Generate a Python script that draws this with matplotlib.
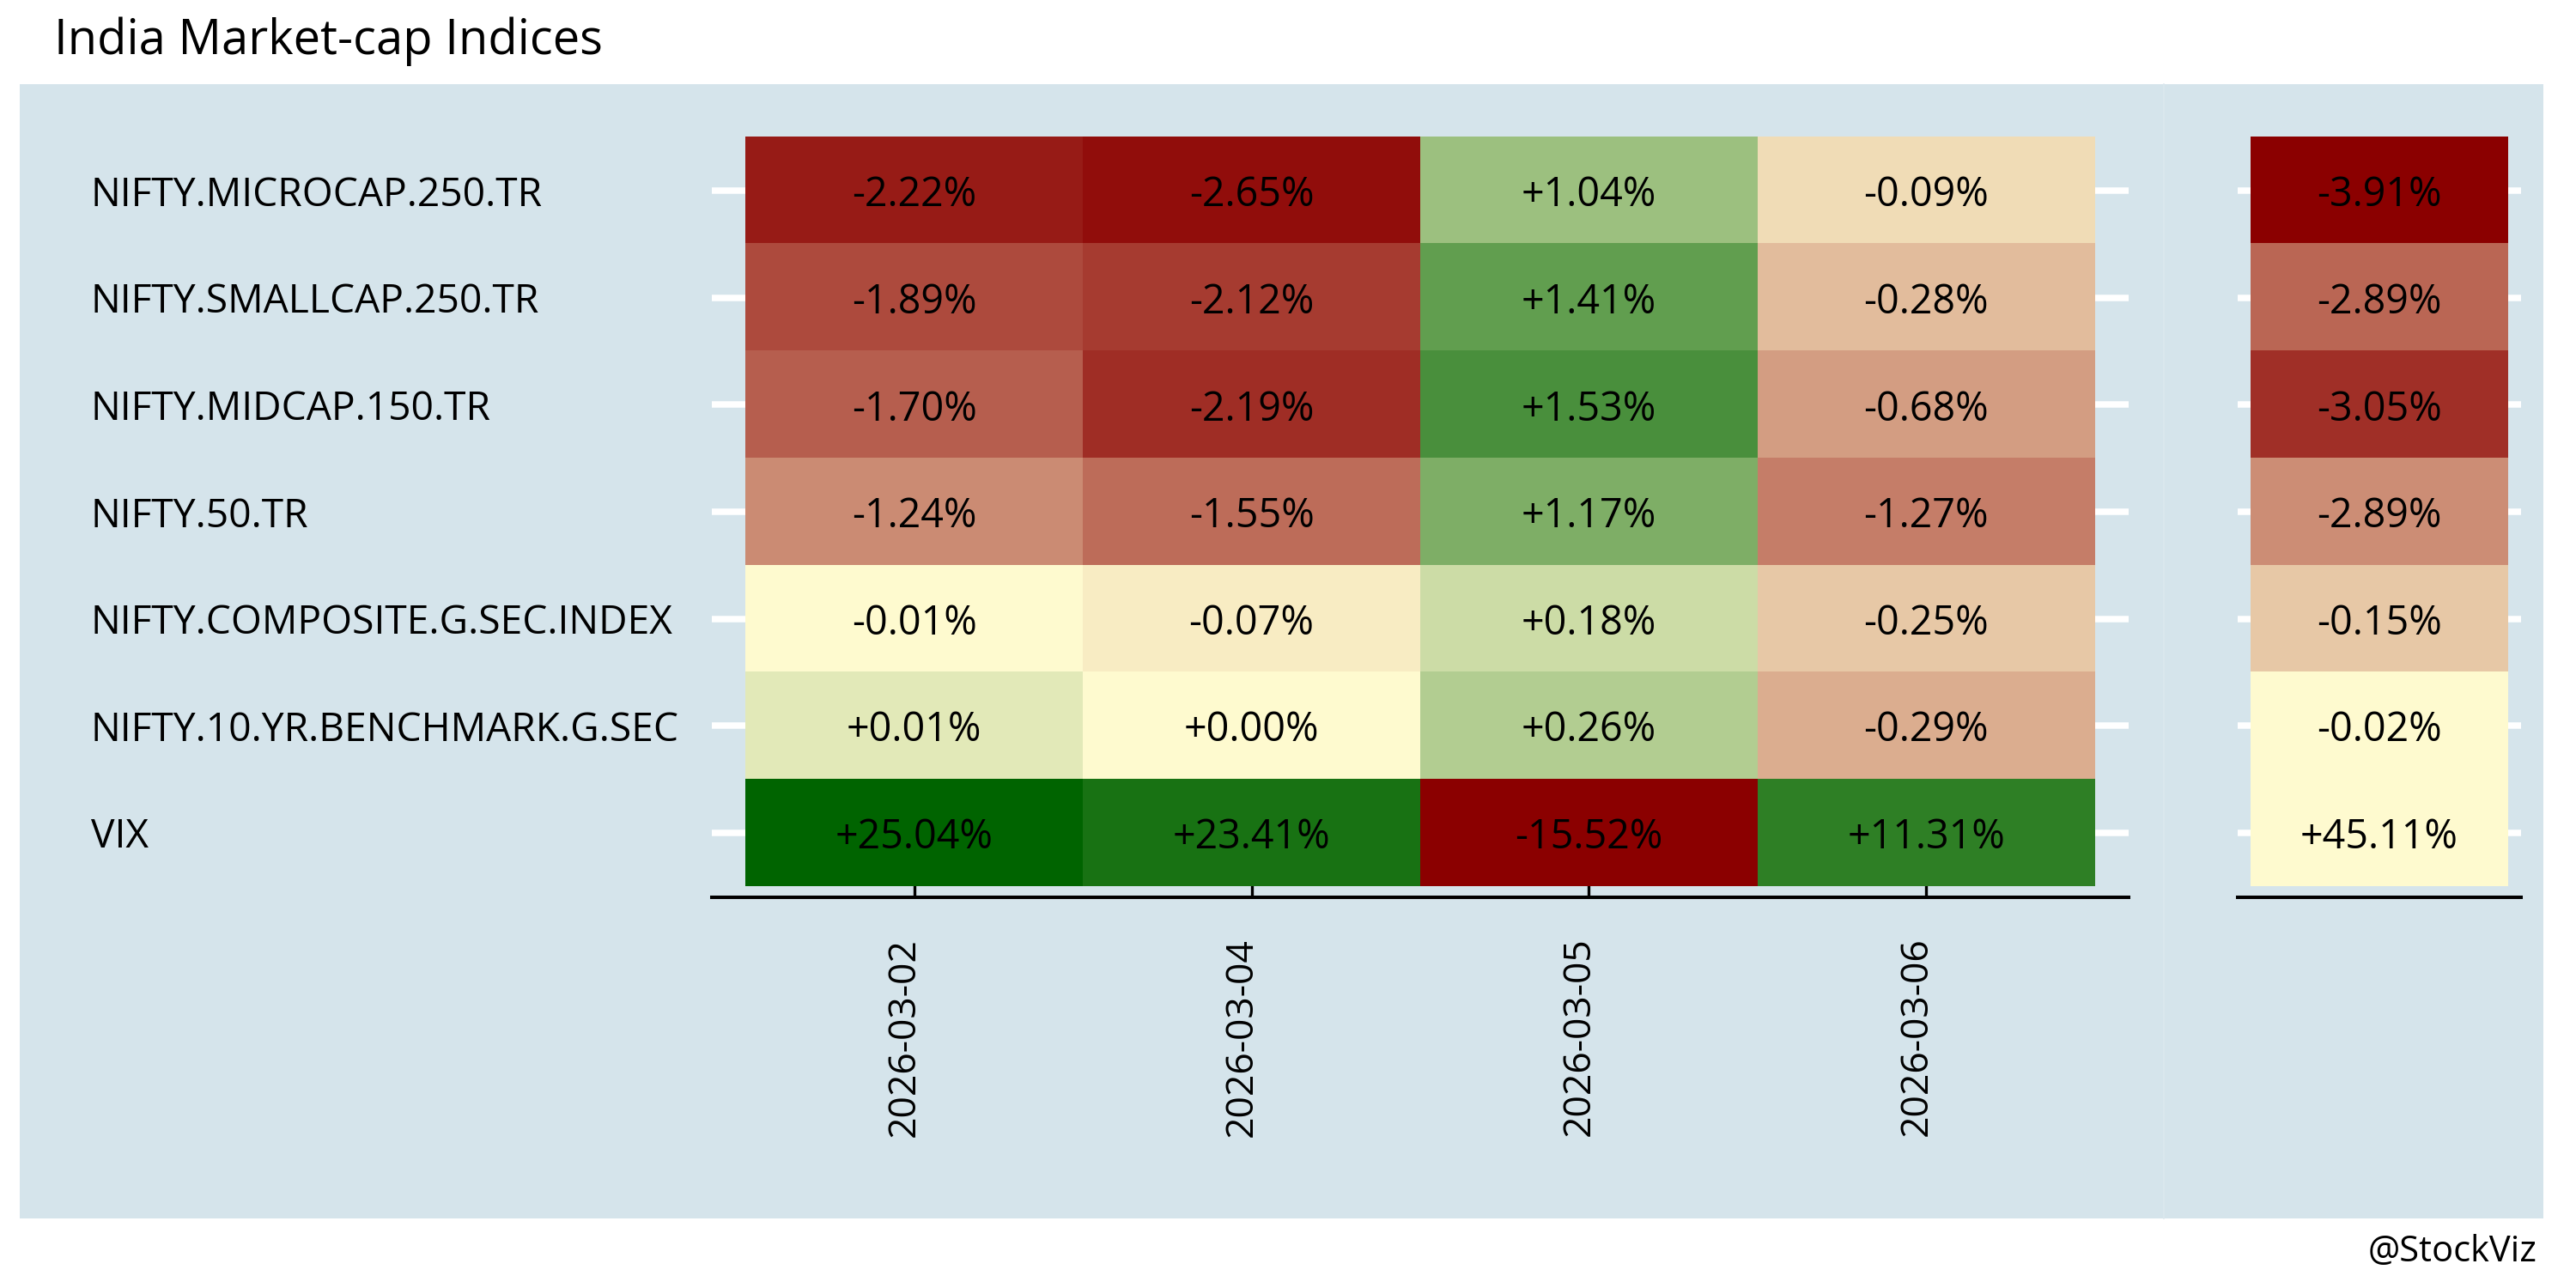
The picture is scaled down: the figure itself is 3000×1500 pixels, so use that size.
import matplotlib
matplotlib.use("Agg")
import matplotlib.pyplot as plt
from matplotlib.colors import LinearSegmentedColormap, Normalize
from matplotlib.patches import Rectangle
from matplotlib.transforms import ScaledTranslation
import numpy as np

plt.rcParams['font.family'] = ['Open Sans', 'DejaVu Sans']

# data
indices = ["NIFTY.MICROCAP.250.TR", "NIFTY.SMALLCAP.250.TR", "NIFTY.MIDCAP.150.TR",
           "NIFTY.50.TR", "NIFTY.COMPOSITE.G.SEC.INDEX", "NIFTY.10.YR.BENCHMARK.G.SEC", "VIX"]
dates = ["2026-03-02", "2026-03-04", "2026-03-05", "2026-03-06"]
daily_ret = [
    [-2.22, -2.65, 1.04, -0.09],
    [-1.89, -2.12, 1.41, -0.28],
    [-1.70, -2.19, 1.53, -0.68],
    [-1.24, -1.55, 1.17, -1.27],
    [-0.01, -0.07, 0.18, -0.25],
    [0.01, 0.00, 0.26, -0.29],
    [25.04, 23.41, -15.52, 11.31],
]
total_ret = [-3.91, -2.89, -3.05, -2.89, -0.15, -0.02, 45.11]

# fill intensity of each cell (-1 = dark red, 0 = yellow, +1 = dark green)
daily_fill = [
    [-0.89, -0.94, 0.39, -0.12],
    [-0.70, -0.76, 0.61, -0.25],
    [-0.62, -0.82, 0.71, -0.37],
    [-0.44, -0.57, 0.50, -0.50],
    [0.00, -0.06, 0.20, -0.20],
    [0.11, 0.00, 0.30, -0.31],
    [1.00, 0.90, -1.00, 0.82],
]
total_fill = [-1.00, -0.59, -0.81, -0.43, -0.20, 0.00, 0.00]

BG = '#d5e4eb'
W, H = 3000, 1500
cmap = LinearSegmentedColormap.from_list('ryg', ['#8b0000', '#fffbd0', '#006400'])
norm = Normalize(-1, 1)

fig = plt.figure(figsize=(15, 7.5), dpi=200, facecolor='white')

# plot backgrounds (two panels side by side)
fig.patches.append(Rectangle((23 / W, 1 - 1419 / H), (2520 - 23) / W, (1419 - 98) / H,
                             transform=fig.transFigure, facecolor=BG, edgecolor='none', zorder=-2))
fig.patches.append(Rectangle((2520 / W, 1 - 1419 / H), (2962 - 2520) / W, (1419 - 98) / H,
                             transform=fig.transFigure, facecolor=BG, edgecolor='none', zorder=-2))
fig.lines.append(plt.Line2D([2520 / W, 2520 / W], [1 - 1419 / H, 1 - 98 / H], transform=fig.transFigure,
                            color='#dce8ee', lw=0.6, zorder=-1))

bottom = 1 - 1044.5 / H
height = (1044.5 - 147.5) / H
ax = fig.add_axes([829 / W, bottom, 1650 / W, height])
ax2 = fig.add_axes([2606 / W, bottom, 330 / W, height])

n = len(indices)
data = np.array(daily_ret)

for a in (ax, ax2):
    a.set_facecolor('none')
    for s in ['top', 'left', 'right']:
        a.spines[s].set_visible(False)
    a.spines['bottom'].set_linewidth(1.45)
    a.spines['bottom'].set_color('black')
    a.set_axisbelow(True)
    a.yaxis.grid(True, color='white', lw=2.7)

# main heatmap
ax.imshow(np.array(daily_fill), cmap=cmap, norm=norm, aspect='auto',
          extent=(0.5, len(dates) + 0.5, n + 0.5, 0.5), interpolation='nearest', zorder=2)
ax.set_xlim(0.4, len(dates) + 0.6)
ax.set_ylim(n + 0.6, 0.4)
for i in range(n):
    for j in range(len(dates)):
        ax.text(j + 1, i + 1, f"{data[i, j]:+.2f}%", ha='center', va='center_baseline',
                fontsize=16.8, zorder=3)

ax.set_xticks(range(1, len(dates) + 1))
ax.set_xticklabels(dates, rotation=90, fontsize=16)
ax.tick_params(axis='x', direction='in', length=7.2, width=1.2, pad=17, color='black')
shift = ScaledTranslation(-4 / 72, 0, fig.dpi_scale_trans)
for lbl in ax.get_xticklabels():
    lbl.set_transform(lbl.get_transform() + shift)
ax.set_yticks(range(1, n + 1))
ax.set_yticklabels(indices, fontsize=16.6)
ax.tick_params(axis='y', length=0, pad=(829 - 106) / 200 * 72)
for lbl in ax.get_yticklabels():
    lbl.set_ha('left')

# total column
ax2.imshow(np.array(total_fill).reshape(-1, 1), cmap=cmap, norm=norm, aspect='auto',
           extent=(-0.5, 0.5, n + 0.5, 0.5), interpolation='nearest', zorder=2)
ax2.set_xlim(-0.55, 0.55)
ax2.set_ylim(n + 0.6, 0.4)
for i in range(n):
    ax2.text(0, i + 1, f"{total_ret[i]:+.2f}%", ha='center', va='center_baseline',
             fontsize=16.8, zorder=3)
ax2.set_xticks([])
ax2.set_yticks(range(1, n + 1))
ax2.set_yticklabels([])
ax2.tick_params(axis='y', length=0)

fig.text(63 / W, 1 - 63 / H, "India Market-cap Indices", fontsize=20.2, ha='left', va='baseline')
fig.text(2955 / W, 1 - 1458 / H, "@StockViz", fontsize=15, ha='right', va='center')

fig.savefig('out.png', dpi=200, facecolor='white')
